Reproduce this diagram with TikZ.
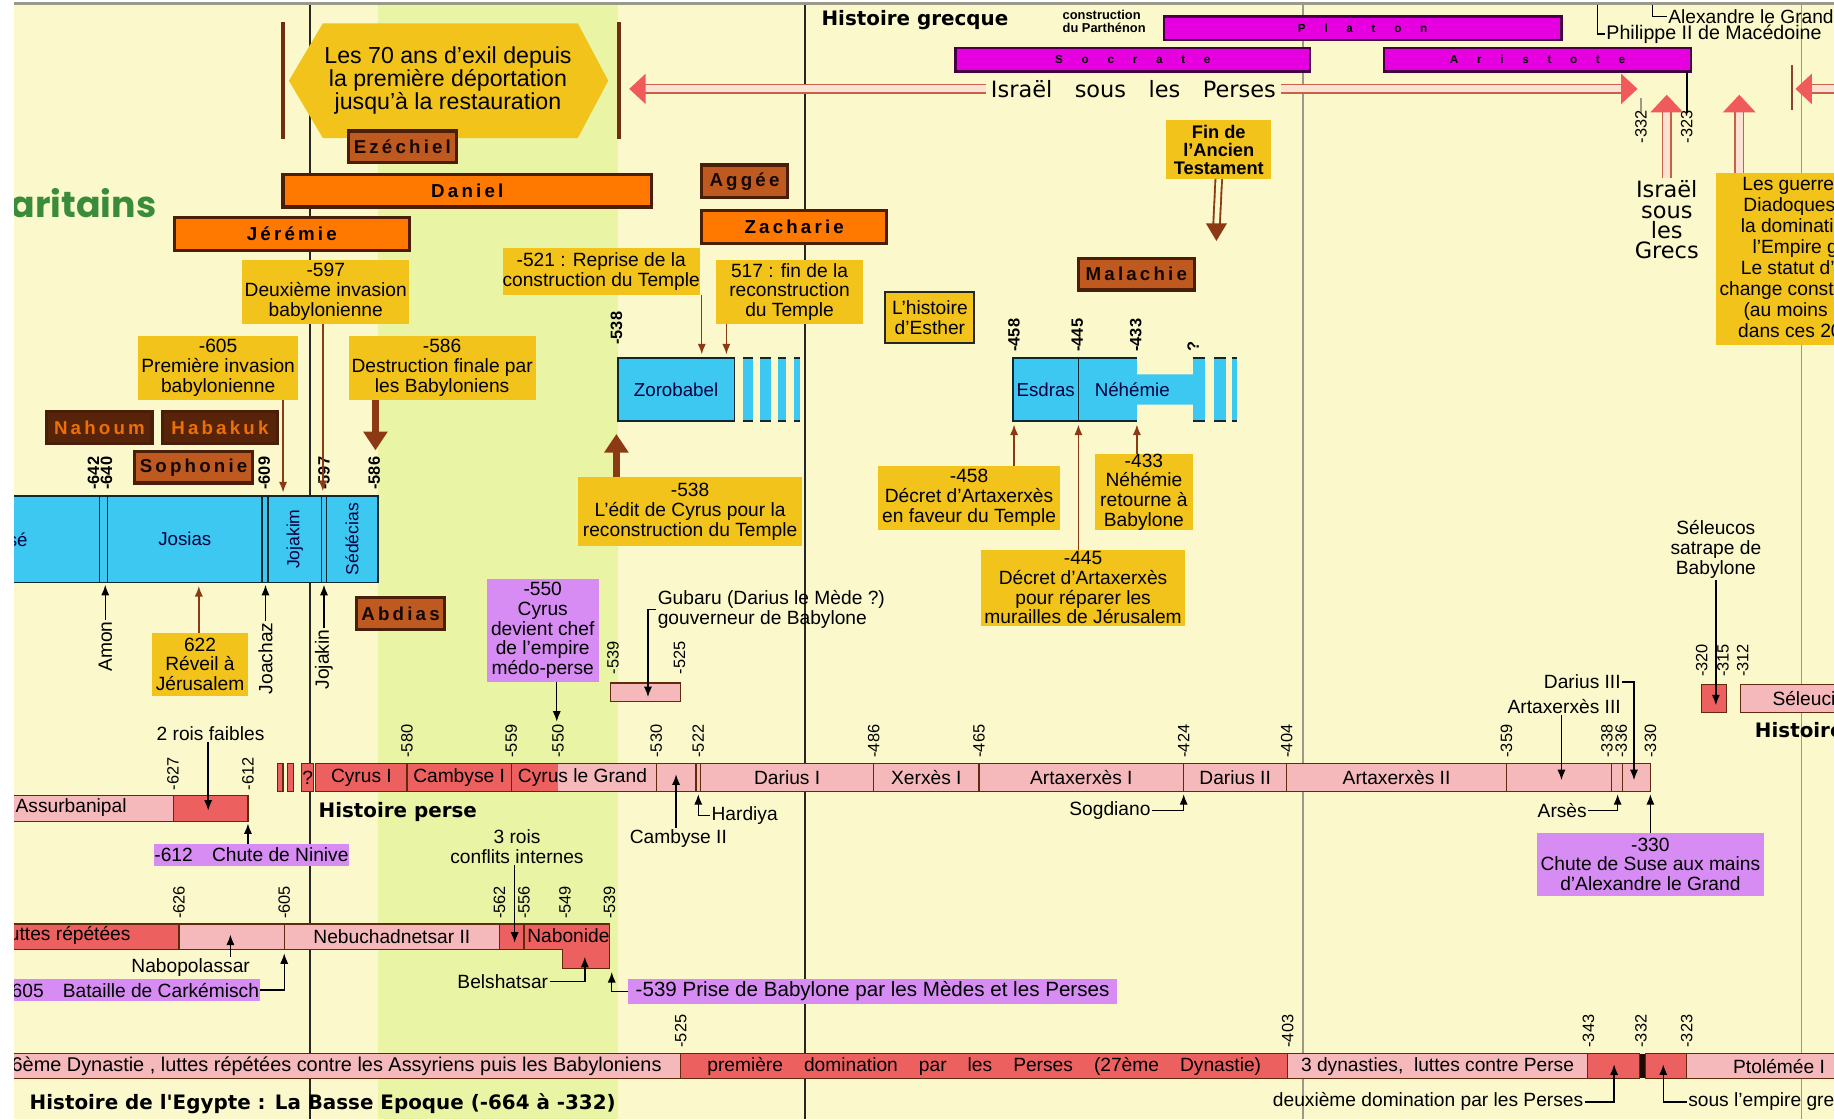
\documentclass[tikz,border=0pt]{standalone}
\usepackage{fontspec}
\setmainfont{Liberation Sans}
\newfontfamily\dvs{DejaVu Sans}
\newfontfamily\pfont[LetterSpace=17]{Liberation Sans}
\newfontfamily\gfont[LetterSpace=160]{Liberation Sans}
\newfontfamily\popp{Poppins}
\usetikzlibrary{arrows.meta}
\definecolor{bg}{HTML}{FBF9CB}
\definecolor{grn}{HTML}{E9F4A5}
\definecolor{ylw}{HTML}{F2C31A}
\definecolor{org}{HTML}{FF7800}
\definecolor{rust}{HTML}{BE5A20}
\definecolor{dbr}{HTML}{4A1E08}
\definecolor{brn}{HTML}{8B3A14}
\definecolor{mag}{HTML}{E600E0}
\definecolor{prp}{HTML}{D68CF2}
\definecolor{blu}{HTML}{3CC8F0}
\definecolor{pnk}{HTML}{F5B9BB}
\definecolor{rd}{HTML}{EC6060}
\definecolor{ared}{HTML}{F05A5A}
\definecolor{lnred}{HTML}{C8604A}
\definecolor{lpk}{HTML}{FBE3D3}
\definecolor{sam}{HTML}{3A8C3A}
\definecolor{gry}{HTML}{9A9A8A}
\newcommand\fsz[2]{\fontsize{#1}{#2}\selectfont}
\newcommand\tlbox[7][]{\node[inner sep=0pt,outer sep=0pt,minimum width={((#5)-(#3))*0.5pt},minimum height={((#6)-(#4))*0.5pt},#1] (#2) at ({((#3)+(#5))/2},{((#4)+(#6))/2}) {#7};}
\newcommand\yl[4][yr]{\node[#1] (#2) at (#3) {#4};}
\begin{document}
\begin{tikzpicture}[x=0.5pt,y=-0.5pt,
  ybox/.style={fill=ylw,align=center,font=\fsz{8.2}{8.4}},
  pbox/.style={fill=prp,align=center,font=\fsz{8.2}{8.4}},
  prophL/.style={fill=org,draw=dbr,line width=1.4pt,font=\pfont\bfseries\fsz{8}{8}},
  prophR/.style={fill=rust,draw=dbr,line width=1.4pt,font=\pfont\bfseries\fsz{8}{8},text=black!85!brn},
  prophD/.style={fill=dbr!80!brn,draw=dbr,line width=1.4pt,font=\pfont\bfseries\fsz{8}{8},text=org!85!brn},
  magbar/.style={fill=mag,draw=black!70!mag,line width=1pt,font=\gfont\bfseries\fsz{5}{5}},
  bluebar/.style={fill=blu,draw=black!80!blu,line width=0.8pt,font=\fsz{8}{8},text=black!75!blue},
  pk/.style={fill=pnk,draw=brn!70!black,line width=0.5pt,font=\fsz{8.2}{8.2}},
  rdseg/.style={fill=rd,draw=brn!70!black,line width=0.5pt,font=\fsz{8.2}{8.2}},
  yr/.style={rotate=90,anchor=west,inner sep=0.5pt,font=\fsz{7}{7}},
  yrb/.style={rotate=90,anchor=west,inner sep=0.5pt,font=\bfseries\fsz{7}{7}},
  lbl/.style={inner sep=0.5pt,font=\fsz{8.2}{8.5},align=center},
  hfont/.style={font=\dvs\bfseries\fsz{8.5}{8.5},inner sep=0pt},
  barr/.style={draw=brn,line width=0.6pt,-{Latex[length=4.5pt,width=3.5pt]}},
  karr/.style={draw=black,line width=0.6pt,-{Latex[length=4.5pt,width=3.5pt]}},
  tarr/.style={draw=brn,line width=3pt,-{Triangle[length=8pt,width=10pt]}},
  dline/.style={draw=lnred,double=lpk,line width=0.7pt,double distance=3pt},
  divl/.style={draw=black!80!blu,line width=0.6pt}
]
\useasboundingbox (0,0) rectangle (1568,957);
\fill[white] (0,0) rectangle (1568,957);
\fill[bg] (12,4) rectangle (1568,957);
\fill[grn] (323,4) rectangle (528,957);
\draw[gry,line width=1pt] (12,3) -- (1568,3);
\begin{scope}
\clip (12,4) rectangle (1568,957);
% grid lines
\draw[black!85,line width=0.7pt] (265,4) -- (265,957);
\draw[black!85,line width=0.7pt] (688,4) -- (688,957);
\draw[gry,line width=0.6pt] (1114,4) -- (1114,957);
\draw[gry,line width=0.6pt] (1540,4) -- (1540,957);

% Samaritains
\node[font=\popp\bfseries\fsz{15.5}{15.5},text=sam,anchor=base east,inner sep=0pt] (sama) at (134,186) {Samaritains};

% 70 ans
\fill[ylw] (247,69) -- (276,20) -- (494,20) -- (520,69) -- (494,118) -- (276,118) -- cycle;
\node[font=\fsz{9.9}{9.8},align=center,inner sep=0pt] (exil) at (383,69) {Les 70 ans d'exil depuis\\la première déportation\\jusqu'à la restauration};
\draw[brn!80!black,line width=1.6pt] (242,19) -- (242,119);
\draw[brn!80!black,line width=1.6pt] (529,19) -- (529,119);

% Histoire grecque
\node[hfont,anchor=west] (hgrec) at (702,17) {Histoire grecque};
\node[font=\bfseries\fsz{5.5}{5.5},align=left,inner sep=0pt] (parth) at (944,18) {construction\\du Parthénon};
\tlbox[magbar]{plat}{995}{14}{1335}{34}{Platon}
\tlbox[magbar]{socr}{817}{41}{1120}{61}{Socrate}
\tlbox[magbar]{arist}{1183}{41}{1446}{61}{Aristote}
\node[lbl,anchor=west,font=\fsz{8.2}{8.2}] (alex) at (1425,14) {Alexandre le Grand};
\node[lbl,anchor=west,font=\fsz{8.4}{8.4}] (phil) at (1372,29) {Philippe II de Macédoine};
\coordinate (alexT) at (1413,4);
\coordinate (philT) at (1366,4);
\draw[black,line width=0.6pt] (alexT) |- (alex.west);
\draw[black,line width=0.6pt] (philT) |- (phil.west);

% Israel sous les Perses
\node[font=\dvs\fsz{9.6}{9.6},inner sep=2pt] (isr) at (969,76) {Israël\quad sous\quad les\quad Perses};
\coordinate (isrL) at (551,76);
\coordinate (isrR) at (1387,76);
\draw[dline] (isrL) -- (isrL -| isr.west);
\draw[dline] (isr.east |- isrR) -- (isrR);
\fill[ared] (538,76) -- (552,63) -- (552,89) -- cycle;
\fill[ared] (1400,76) -- (1386,63) -- (1386,89) -- cycle;
\draw[gry,line width=0.6pt] (1403,84) -- (1403,97);
\draw[black,line width=0.8pt] (1442,61) -- (1442,97);
\yl{y332a}{1403,124}{-332}
\yl{y323a}{1442,124}{-323}

% Israel sous les Grecs
\node[font=\dvs\fsz{9.6}{8.7},align=center,inner sep=1pt] (grecs) at (1425,188) {Israël\\sous\\les\\Grecs};
\coordinate (grT) at (1425,95);
\draw[dline] (grecs.north) -- (grT);
\fill[ared] (1425,81) -- (1411,96) -- (1439,96) -- cycle;

% Guerres des Diadoques
\tlbox[ybox,font=\fsz{8.2}{9}]{guer}{1467}{148}{1630}{295}{Les guerres des\\Diadoques pour\\la domination de\\l'Empire grec.\\Le statut d'Israël\\change constamment\\(au moins 7 fois\\dans ces 20 ans)}
\coordinate (guT) at (1487,95);
\draw[dline] (1487,0 |- guer.north) -- (guT);
\fill[ared] (1487,81) -- (1473,96) -- (1501,96) -- cycle;
\draw[lnred!70!black,line width=1pt] (1532,56) -- (1532,94);
\fill[ared] (1535,76) -- (1549,63) -- (1549,89) -- cycle;
\coordinate (frA) at (1549,76);
\coordinate (frB) at (1575,76);
\draw[dline] (frA) -- (frB);

% Fin AT
\tlbox[ybox,font=\bfseries\fsz{7.8}{7.6}]{finat}{997}{103}{1087}{153}{Fin de\\l'Ancien\\Testament}
\coordinate (finE) at (1040,194);
\draw[draw=brn,double=bg,line width=0.8pt,double distance=2pt] (finat.south) -- (finE);
\fill[brn] (1040,206) -- (1031,191) -- (1049,191) -- cycle;

% prophets
\tlbox[prophR]{ezek}{298}{112}{390}{139}{Ezéchiel}
\tlbox[prophL]{dan}{242}{149}{557}{177}{Daniel}
\tlbox[prophL]{jer}{149}{186}{350}{214}{Jérémie}
\tlbox[prophR]{agg}{600}{141}{673}{169}{Aggée}
\tlbox[prophL]{zach}{600}{180}{758}{208}{Zacharie}
\tlbox[prophR]{mal}{922}{221}{1021}{248}{Malachie}
\tlbox[prophD]{nah}{40}{352}{130}{379}{Nahoum}
\tlbox[prophD]{hab}{139}{352}{237}{379}{Habakuk}
\tlbox[prophR]{soph}{115}{386}{216}{413}{Sophonie}
\tlbox[prophR]{abd}{305}{511}{380}{538}{Abdias}

% yellow boxes
\tlbox[ybox]{b597}{207}{222}{350}{277}{-597\\Deuxième invasion\\babylonienne}
\tlbox[ybox]{b605}{118}{287}{255}{342}{-605\\Première invasion\\babylonienne}
\tlbox[ybox]{b586}{298}{287}{458}{342}{-586\\Destruction finale par\\les Babyloniens}
\tlbox[ybox]{b521}{430}{212}{598}{252}{-521 : Reprise de la\\construction du Temple}
\tlbox[ybox]{b517}{612}{222}{738}{277}{517 : fin de la\\reconstruction\\du Temple}
\tlbox[ybox,draw=black!85,line width=0.8pt]{esth}{757}{250}{833}{293}{L'histoire\\d'Esther}
\tlbox[ybox]{b538}{494}{408}{686}{467}{-538\\L'édit de Cyrus pour la\\reconstruction du Temple}
\tlbox[ybox]{b458}{751}{398}{906}{453}{-458\\Décret d'Artaxerxès\\en faveur du Temple}
\tlbox[ybox]{b433}{936}{388}{1020}{453}{-433\\Néhémie\\retourne à\\Babylone}
\tlbox[ybox]{b445}{839}{470}{1013}{535}{-445\\Décret d'Artaxerxès\\pour réparer les\\murailles de Jérusalem}
\tlbox[ybox]{b622}{130}{541}{212}{595}{622\\Réveil à\\Jérusalem}

% Judah kings bar
\tlbox[bluebar]{judah}{-10}{424}{323}{498}{}
\foreach \xx in {85,92,224,229,275,279} {\draw[divl] (\xx,424) -- (\xx,498);}
\node[font=\fsz{8}{8},text=black!75!blue,anchor=east,inner sep=0pt] (manas) at (24,461) {Manassé};
\node[font=\fsz{8}{8},text=black!75!blue,inner sep=0pt] (josias) at (158,461) {Josias};
\node[font=\fsz{7.5}{7.5},text=black!75!blue,rotate=90,inner sep=0pt] (jojak) at (252,461) {Jojakim};
\node[font=\fsz{7.5}{7.5},text=black!75!blue,rotate=90,inner sep=0pt] (sede) at (301,461) {Sédécias};
\yl[yrb]{y642}{80,420}{-642}
\yl[yrb]{y640}{91,420}{-640}
\yl[yrb]{y609}{226,420}{-609}
\yl[yrb]{y597}{277,420}{-597}
\yl[yrb]{y586}{320,420}{-586}
\draw[barr] (242,0 |- b605.south) -- (242,421);
\draw[barr] (276,0 |- b597.south) -- (276,420);
\draw[tarr] (321,0 |- b586.south) -- (321,385);
\draw[barr] (170,0 |- b622.north) -- (170,501);
\node[lbl,rotate=90,anchor=east] (amon) at (90,530) {Amon};
\node[lbl,rotate=90,anchor=east] (joach) at (227,531) {Joachaz};
\node[lbl,rotate=90,anchor=east] (jojakin) at (277,537) {Jojakin};
\draw[karr] (amon.east) -- (90,500);
\draw[karr] (joach.east) -- (227,500);
\draw[karr] (jojakin.east) -- (277,500);

% Zorobabel
\tlbox[bluebar]{zoro}{528}{306}{628}{360}{Zorobabel}
\foreach \a/\b [count=\i] in {635/644,650/659,665/672,679/684} {
  \tlbox[fill=blu]{zs\i}{\a}{306}{\b}{360}{}
  \draw[divl] (zs\i.north west) -- (zs\i.north east) (zs\i.south west) -- (zs\i.south east);
}
\yl[yrb]{y538}{527,296}{-538}
\draw[barr] (600,0 |- b521.south) -- (600,303);
\draw[barr] (621,0 |- b517.south) -- (621,303);
\draw[tarr] (527,0 |- b538.north) -- (527,371);

% Esdras / Nehemie
\fill[blu] (866,306) -- (972,306) -- (972,320) -- (1020,320) -- (1020,346) -- (972,346) -- (972,360) -- (866,360) -- cycle;
\draw[divl,line width=0.8pt] (972,306) -- (866,306) -- (866,360) -- (972,360);
\draw[divl] (922,306) -- (922,360);
\node[font=\fsz{8}{8},text=black!75!blue,inner sep=0pt] (esdras) at (894,333) {Esdras};
\node[font=\fsz{8}{8},text=black!75!blue,inner sep=0pt] (nehem) at (968,333) {Néhémie};
\foreach \a/\b [count=\i] in {1020/1030,1038/1048,1053/1058} {
  \tlbox[fill=blu]{ns\i}{\a}{306}{\b}{360}{}
  \draw[divl] (ns\i.north west) -- (ns\i.north east) (ns\i.south west) -- (ns\i.south east);
}
\yl[yrb]{y458}{867,302}{-458}
\yl[yrb]{y445}{921,302}{-445}
\yl[yrb]{y433}{971,302}{-433}
\yl[yrb]{yq}{1020,302}{?}
\draw[barr] (867,0 |- b458.north) -- (867,363);
\draw[barr] (922,0 |- b445.north) -- (922,363);
\draw[barr] (972,0 |- b433.north) -- (972,363);

% purple boxes
\tlbox[pbox]{p550}{416}{495}{512}{583}{-550\\Cyrus\\devient chef\\de l'empire\\médo-perse}
\tlbox[pbox]{p612}{133}{722}{297}{740}{-612\quad Chute de Ninive}
\tlbox[pbox]{p605}{4}{837}{222}{856}{-605\quad Bataille de Carkémisch}
\tlbox[pbox,font=\fsz{8.8}{8.8}]{p539}{537}{837}{955}{858}{-539 Prise de Babylone par les Mèdes et les Perses}
\tlbox[pbox]{p330}{1314}{712}{1508}{766}{-330\\Chute de Suse aux mains\\d'Alexandre le Grand}

% Gubaru
\tlbox[pk]{gub}{522}{584}{582}{600}{}
\yl{y539g}{524,578}{-539}
\yl{y525g}{581,578}{-525}
\node[lbl,align=left,anchor=west] (gubl) at (561,521) {Gubaru (Darius le Mède ?)\\gouverneur de Babylone};
\draw[karr] (gubl.west) -| (554,596);

% Persian row
\tlbox[rdseg]{ps1}{237}{653}{242}{677}{}
\tlbox[rdseg]{ps2}{246}{653}{251}{677}{}
\tlbox[rdseg]{psq}{258}{653}{268}{677}{?}
\tlbox[rdseg]{cyr1}{270}{653}{348}{677}{Cyrus I}
\tlbox[rdseg]{camb1}{348}{653}{437}{677}{Cambyse I}
\tlbox[pk]{cyrg}{437}{653}{561}{677}{}
\fill[rd] (437.5,653.6) rectangle (477,676.4);
\node[font=\fsz{8.2}{8.2},inner sep=0pt] (cyrgt) at (498,665) {Cyrus le Grand};
\tlbox[pk]{camb2}{561}{653}{595}{677}{}
\tlbox[pk]{hardb}{595}{653}{599}{677}{}
\tlbox[pk]{dar1}{599}{653}{747}{677}{Darius I}
\tlbox[pk]{xer1}{747}{653}{837}{677}{Xerxès I}
\tlbox[pk]{art1}{837}{653}{1012}{677}{Artaxerxès I}
\tlbox[pk]{dar2}{1012}{653}{1100}{677}{Darius II}
\tlbox[pk]{art2}{1100}{653}{1288}{677}{Artaxerxès II}
\tlbox[pk]{art3}{1288}{653}{1378}{677}{}
\tlbox[pk]{arsb}{1378}{653}{1387}{677}{}
\tlbox[pk]{dar3}{1387}{653}{1411}{677}{}
\yl{y580}{348,649}{-580}
\yl{y559}{437,649}{-559}
\yl{y550}{477,649}{-550}
\yl{y530}{561,649}{-530}
\yl{y522}{597,649}{-522}
\yl{y486}{747,649}{-486}
\yl{y465}{837,649}{-465}
\yl{y424}{1012,649}{-424}
\yl{y404}{1100,649}{-404}
\yl{y359}{1288,649}{-359}
\yl{y338}{1374,649}{-338}
\yl{y336}{1386,649}{-336}
\yl{y330}{1411,649}{-330}
\draw[karr] (476,0 |- p550.south) -- (476,617);
\node[hfont,anchor=west] (hperse) at (272,694) {Histoire perse};
\node[lbl] (cb2) at (580,717) {Cambyse II};
\draw[karr] (578,0 |- cb2.north) -- (578,662);
\node[lbl,anchor=west] (hard) at (607,697) {Hardiya};
\draw[karr] (hard.west) -| (597,679);
\node[lbl,anchor=east] (sog) at (985,693) {Sogdiano};
\draw[karr] (sog.east) -| (1012,679);
\node[lbl,anchor=east] (ars) at (1358,693) {Arsès};
\draw[karr] (ars.east) -| (1383,679);
\node[lbl,anchor=east] (dar3l) at (1387,583) {Darius III};
\draw[karr] (dar3l.east) -| (1397,667);
\node[lbl,anchor=east] (art3l) at (1387,604) {Artaxerxès III};
\draw[karr] (1335,0 |- art3l.south) -- (1335,667);
\draw[karr] (1411,0 |- p330.north) -- (1411,679);

% Seleucos
\node[lbl] (sel) at (1467,470) {Séleucos\\satrape de\\Babylone};
\tlbox[rdseg]{selr}{1455}{585}{1476}{609}{}
\draw[karr] (1467,0 |- sel.south) -- (1467,603);
\tlbox[pk]{selb}{1488}{585}{1640}{609}{}
\node[font=\fsz{8.2}{8.2},anchor=west,inner sep=0pt] (selt) at (1515,597) {Séleucides};
\yl{y320}{1455,580}{-320}
\yl{y315}{1473,580}{-315}
\yl{y312}{1490,580}{-312}
\node[hfont,anchor=west] (hsel) at (1500,624) {Histoire séleucide};

% Assyria
\tlbox[pk]{assur}{-10}{680}{148}{702}{}
\node[font=\fsz{8.2}{8.2},anchor=west,inner sep=0pt] (assurt) at (13,690) {Assurbanipal};
\tlbox[rdseg]{assur2}{148}{680}{212}{702}{}
\yl{y627}{148,677}{-627}
\yl{y612}{212,677}{-612}
\node[lbl] (deuxrois) at (180,627) {2 rois faibles};
\draw[karr] (178,0 |- deuxrois.south) -- (178,693);
\draw[karr] (212,0 |- p612.north) -- (212,704);

% Babylon row
\tlbox[rdseg]{lut}{-10}{790}{153}{812}{}
\node[font=\fsz{8.2}{8.2},anchor=east,inner sep=0pt] (lutt) at (112,800) {luttes répétées};
\tlbox[pk]{nabo}{153}{790}{243}{812}{}
\tlbox[pk]{nebu}{243}{790}{427}{812}{Nebuchadnetsar II}
\tlbox[rdseg]{amel}{427}{790}{448}{812}{}
\tlbox[rdseg]{bels}{481}{805}{521}{828}{}
\tlbox[rdseg]{nabd}{448}{790}{521}{812}{}
\fill[rd] (481.4,808) rectangle (520.6,814);
\node[font=\fsz{8.2}{8.2},inner sep=0pt] (nabdt) at (486,800) {Nabonide};
\yl{y626}{153,787}{-626}
\yl{y605}{243,787}{-605}
\yl{y562}{427,787}{-562}
\yl{y556}{448,787}{-556}
\yl{y549}{483,787}{-549}
\yl{y539}{521,787}{-539}
\node[lbl] (troisrois) at (442,724) {3 rois\\conflits internes};
\draw[karr] (440,0 |- troisrois.south) -- (440,806);
\node[lbl] (nabol) at (163,827) {Nabopolassar};
\draw[karr] (197,0 |- nabol.north) -- (197,799);
\node[lbl,anchor=east] (belsl) at (470,839) {Belshatsar};
\draw[karr] (belsl.east) -| (500,818);
\draw[karr] (p605.east) -| (243,815);
\draw[karr] (p539.west) -| (523,831);

% Egypt row
\tlbox[pk]{eg26}{-10}{901}{582}{922}{}
\node[font=\fsz{8.5}{8.5},anchor=east,inner sep=0pt] (eg26t) at (566,912) {26ème Dynastie , luttes répétées contre les Assyriens puis les Babyloniens};
\tlbox[rdseg]{eg27}{582}{901}{1101}{922}{\spaceskip=9pt\relax première domination par les Perses (27ème Dynastie)}
\tlbox[pk]{eg3}{1101}{901}{1357}{922}{3 dynasties,\ \ luttes contre Perse}
\tlbox[rdseg]{eg2p}{1357}{901}{1402}{922}{}
\fill[black!80!brn] (1402,901) rectangle (1407,922);
\tlbox[rdseg]{egg}{1407}{901}{1442}{922}{}
\tlbox[pk]{ptol}{1442}{901}{1600}{922}{Ptolémée I}
\yl{y525e}{582,897}{-525}
\yl{y403e}{1101,897}{-403}
\yl{y343e}{1358,897}{-343}
\yl{y332e}{1403,897}{-332}
\yl{y323e}{1442,897}{-323}
\node[lbl,anchor=east] (dd) at (1355,942) {deuxième domination par les Perses};
\draw[karr] (dd.east) -| (1380,910);
\node[lbl,anchor=west] (seg) at (1442,942) {sous l'empire grec};
\draw[karr] (seg.west) -| (1422,910);
\node[hfont,anchor=west] (hegy) at (25,944) {Histoire de l'Egypte : La Basse Epoque (-664 à -332)};
\end{scope}
\end{tikzpicture}
\end{document}
